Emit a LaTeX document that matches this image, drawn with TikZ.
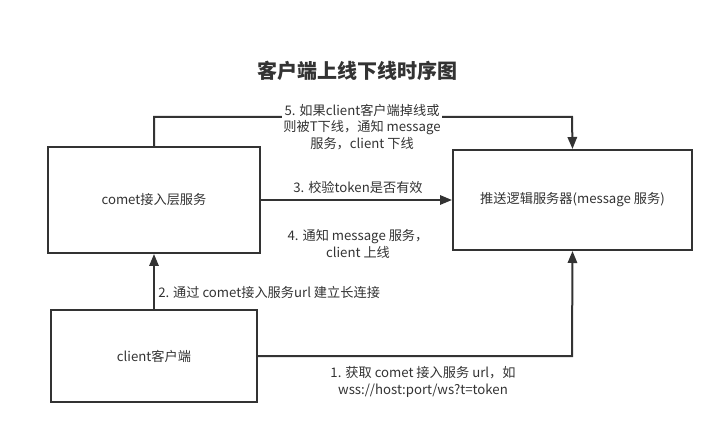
\documentclass[tikz,border=0pt]{standalone}
\usepackage{fontspec}
\setmainfont{Noto Sans CJK SC}
\usetikzlibrary{arrows.meta}
\definecolor{ink}{HTML}{333333}
\tikzset{
  box/.style={draw=ink, line width=1.5pt, fill=white, inner sep=0pt, font=\fontsize{9.9pt}{12.2pt}\selectfont, text=ink},
  conn/.style={draw=ink, line width=1.5pt, -{Triangle[length=9pt,width=7pt]}},
  lbl/.style={font=\fontsize{9.9pt}{12.2pt}\selectfont, text=ink, align=center, inner sep=0pt}
}
\begin{document}
\begin{tikzpicture}[x=0.75pt,y=-0.75pt]
\useasboundingbox (0,0) rectangle (724,434);
\node[font=\bfseries\fontsize{15pt}{18pt}\selectfont, text=ink] (title) at (357,71) {客户端上线下线时序图};
\node[box, minimum width=212*0.75pt, minimum height=106*0.75pt] (comet) at (154,200) {comet接入层服务};
\node[box, minimum width=239*0.75pt, minimum height=100*0.75pt] (msg) at (572.5,200) {推送逻辑服务器(message 服务)};
\node[box, minimum width=206*0.75pt, minimum height=92*0.75pt] (client) at (154,356) {client客户端};
\coordinate (c5a) at (154,117);
\coordinate (c5b) at (572,117);
\coordinate (c1) at (572,356);
\draw[conn] (comet.north) -- (c5a) -- (c5b) -- (msg.north);
\draw[conn] (comet.east) -- (msg.west);
\draw[conn] (client.north) -- (comet.south);
\draw[conn] (client.east) -- (c1) -- (msg.south);
\node[lbl, fill=white, inner sep=1pt] (l5) at (362,127) {5. 如果client客户端掉线或\\则被T下线，通知 message\\服务，client 下线};
\node[lbl] (l3) at (358,187) {3. 校验token是否有效};
\node[lbl] (l4) at (358,244) {4. 通知 message 服务，\\client 上线};
\node[lbl, anchor=west] (l2) at (158,292) {2. 通过 comet接入服务url 建立长连接};
\node[lbl] (l1) at (423,382) {1. 获取 comet 接入服务 url，如\\wss://host:port/ws?t=token};
\end{tikzpicture}
\end{document}
